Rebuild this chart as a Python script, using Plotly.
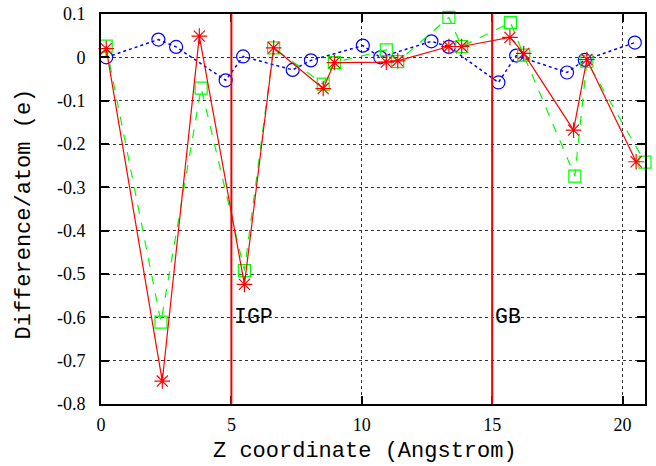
import plotly.graph_objects as go

# Blue (dotted, open circles)
blue_x = [0.2, 2.2, 2.88, 4.78, 5.45, 7.35, 8.05, 10.04, 10.71, 12.67, 13.34, 15.24, 15.92, 17.87, 18.55, 20.47]
blue_y = [0.0, 0.041, 0.024, -0.053, 0.002, -0.029, -0.007, 0.027, 0.0, 0.037, 0.024, -0.058, 0.004, -0.035, -0.006, 0.034]

# Green (dashed, open squares)
green_x = [0.2, 2.3, 3.84, 5.5, 6.62, 8.52, 8.95, 10.94, 11.38, 13.34, 13.83, 15.7, 16.21, 18.17, 18.63, 20.86]
green_y = [0.026, -0.611, -0.071, -0.492, 0.022, -0.062, -0.012, 0.017, -0.01, 0.092, 0.025, 0.08, 0.005, -0.274, -0.009, -0.242]

# Red (solid, asterisks)
red_x = [0.2, 2.35, 3.77, 5.5, 6.62, 8.52, 8.95, 10.94, 11.38, 13.34, 13.83, 15.68, 16.21, 18.12, 18.63, 20.52]
red_y = [0.02, -0.747, 0.049, -0.524, 0.022, -0.072, -0.012, -0.011, -0.008, 0.025, 0.025, 0.046, 0.009, -0.168, -0.005, -0.241]

boundary_x = [5, 15]
boundary_labels = ["IGP", "GB"]
label_y = -0.6

x_range = [0, 20.86]
y_range = [-0.8, 0.1]
x_ticks = [0, 5, 10, 15, 20]
x_ticktext = ["0", "5", "10", "15", "20"]
y_ticks = [0.1, 0.0, -0.1, -0.2, -0.3, -0.4, -0.5, -0.6, -0.7, -0.8]
y_ticktext = ["0.1", "0", "-0.1", "-0.2", "-0.3", "-0.4", "-0.5", "-0.6", "-0.7", "-0.8"]

x_title = "Z coordinate (Angstrom)"
y_title = "Difference/atom (e)"

mono = "Liberation Mono, Courier New, monospace"
serif = "Liberation Serif, Times New Roman, serif"

fig = go.Figure()

fig.add_trace(go.Scatter(
    x=blue_x, y=blue_y, mode="lines+markers",
    line=dict(color="#0000ff", width=1.5, dash="dot"),
    marker=dict(symbol="circle-open", size=13, color="#0000ff", line=dict(width=1.2, color="#0000ff")),
    showlegend=False, cliponaxis=False))

fig.add_trace(go.Scatter(
    x=green_x, y=green_y, mode="lines+markers",
    line=dict(color="#00ff00", width=1.2, dash="dash"),
    marker=dict(symbol="square-open", size=12, color="#00ff00", line=dict(width=1.2, color="#00ff00")),
    showlegend=False, cliponaxis=False))

fig.add_trace(go.Scatter(
    x=red_x, y=red_y, mode="lines+markers",
    line=dict(color="#ff0000", width=1.2),
    marker=dict(symbol="asterisk-open", size=13, color="#ff0000", line=dict(width=1.2, color="#ff0000")),
    showlegend=False, cliponaxis=False))

for bx, lab in zip(boundary_x, boundary_labels):
    fig.add_shape(type="line", xref="x", yref="paper", x0=bx, x1=bx, y0=0, y1=1,
                  line=dict(color="#ee0000", width=2), layer="above")
    fig.add_annotation(x=bx, y=label_y, xref="x", yref="y", text=lab, showarrow=False,
                       xanchor="left", yanchor="middle", xshift=1,
                       font=dict(family=mono, size=21.5, color="black"))

# axis titles as annotations (fixed positions)
fig.add_annotation(x=0.485, y=-0.122, xref="paper", yref="paper", text=x_title, showarrow=False,
                   xanchor="center", yanchor="middle", font=dict(family=mono, size=22, color="black"))
fig.add_annotation(x=-0.14, y=0.488, xref="paper", yref="paper", text=y_title, showarrow=False,
                   textangle=-90, xanchor="center", yanchor="middle",
                   font=dict(family=mono, size=22, color="black"))

axis_common = dict(
    showline=True, linecolor="black", linewidth=2, mirror="ticks",
    ticks="inside", ticklen=8, tickwidth=1.5, tickcolor="black",
    showgrid=True, gridcolor="#333333", gridwidth=1, griddash="dot",
    zeroline=False, automargin=False,
    tickfont=dict(family=serif, size=18, color="black"),
)

fig.update_xaxes(range=x_range, tickvals=x_ticks, ticktext=x_ticktext,
                 ticklabelstandoff=3, **axis_common)
fig.update_yaxes(range=y_range, tickvals=y_ticks, ticktext=y_ticktext,
                 ticklabelstandoff=10, **axis_common)

fig.update_layout(
    width=656, height=466,
    margin=dict(l=101, r=11, t=14, b=62),
    plot_bgcolor="white", paper_bgcolor="white",
)

fig.write_html("out.html", config={"displayModeBar": False},
               post_script="document.body.style.margin='0';")
